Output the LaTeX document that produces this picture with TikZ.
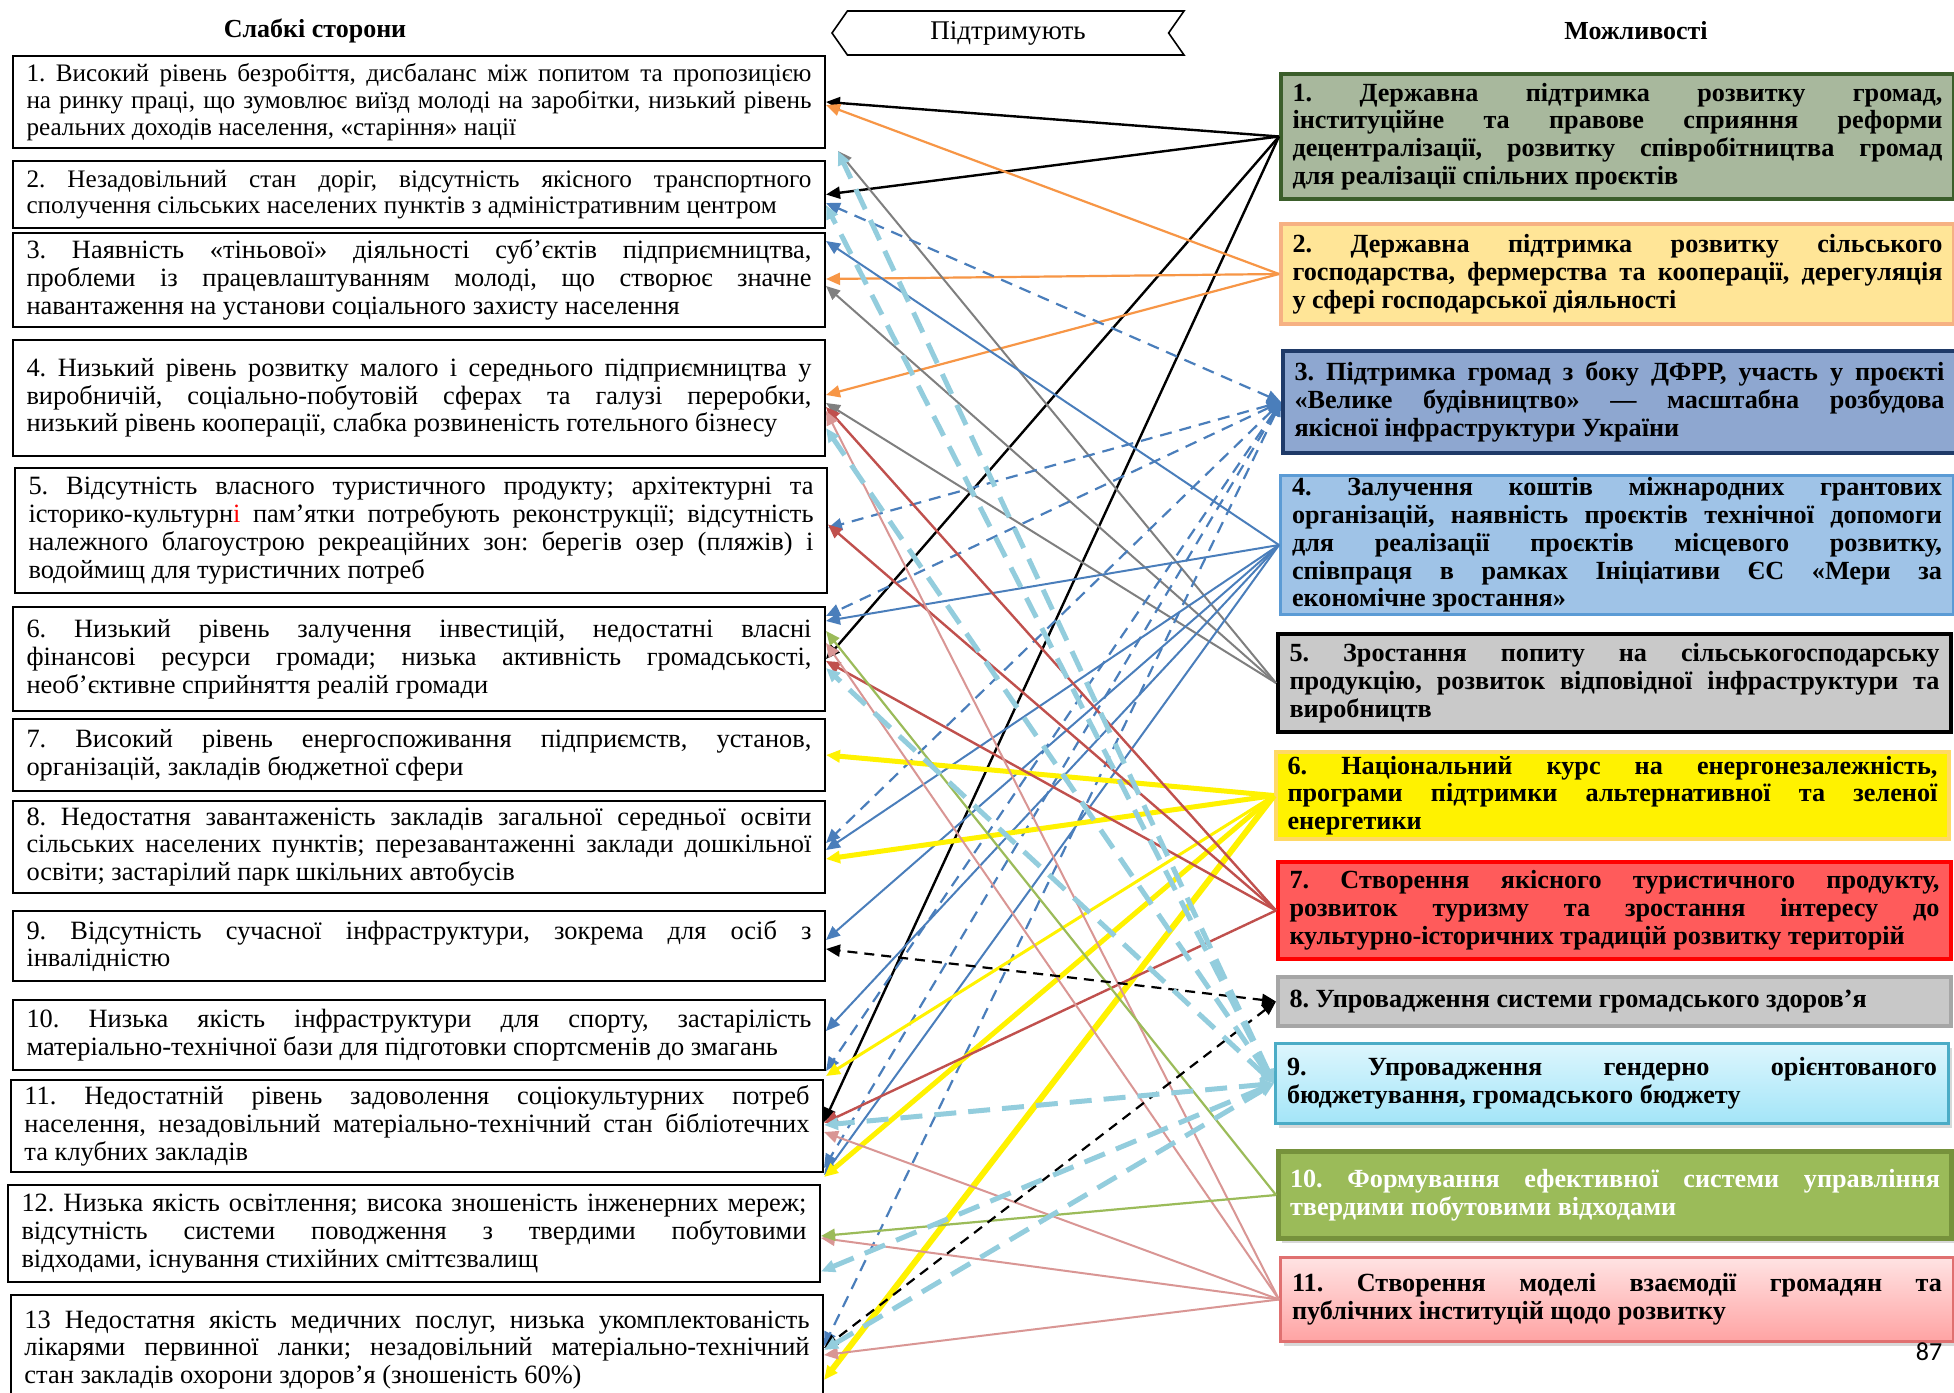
\documentclass[tikz,border=0pt]{standalone}
\usepackage{fontspec}
\setmainfont{Liberation Serif}[WordSpace={1,1.5,2}]
\newfontfamily\numfont{Carlito}
\usetikzlibrary{positioning, arrows.meta, shapes.symbols, shadows}

\definecolor{ogreen}{HTML}{A8B89D}
\definecolor{ogreenb}{HTML}{3B5E2B}
\definecolor{oorange}{HTML}{FFE597}
\definecolor{oorangeb}{HTML}{F6B183}
\definecolor{oblue}{HTML}{8EA7D0}
\definecolor{oblueb}{HTML}{1F3A68}
\definecolor{osky}{HTML}{9FC3E7}
\definecolor{oskyb}{HTML}{5B9BD5}
\definecolor{ogray}{HTML}{C9C9C9}
\definecolor{oyellowb}{HTML}{FFD966}
\definecolor{ored}{HTML}{FF5B5B}
\definecolor{olgray}{HTML}{C8C8C8}
\definecolor{olgrayb}{HTML}{A6A6A6}
\definecolor{ocyantop}{HTML}{DDF6FD}
\definecolor{ocyanbot}{HTML}{A3E5F8}
\definecolor{ocyanb}{HTML}{4BACC6}
\definecolor{olime}{HTML}{9BBB59}
\definecolor{olimeb}{HTML}{76923C}
\definecolor{opinktop}{HTML}{FFE3E3}
\definecolor{opinkbot}{HTML}{FFA3A3}
\definecolor{opinkb}{HTML}{E07070}
\definecolor{corange}{HTML}{F79646}
\definecolor{cgray}{HTML}{7F7F7F}
\definecolor{cblue}{HTML}{4A7EBB}
\definecolor{cred}{HTML}{C0504D}
\definecolor{cpink}{HTML}{D99694}
\definecolor{cgreen}{HTML}{9BBB59}
\definecolor{clblue}{HTML}{93CDDD}

\setlength\parindent{0pt}
\frenchspacing
\tolerance=10000 \hbadness=10000 \hyphenpenalty=10000 \exhyphenpenalty=10000
\newcommand\wfont{\fontsize{13.2}{13.9}\selectfont}
\newcommand\wfonta{\fontsize{12.6}{13.4}\selectfont}
\newcommand\ofont{\fontsize{13.1}{13.9}\selectfont\bfseries}

\begin{document}
\begin{tikzpicture}[x=0.5pt, y=-0.5pt,
	weak/.style={draw, line width=1pt, anchor=north west, minimum height=#1, text width=392.5pt, inner xsep=6.75pt, inner ysep=1pt, align=justify, font=\wfont},
	opp/.style={line width=2pt, anchor=north west, minimum height=#1, text width=325pt, inner xsep=5.75pt, inner ysep=1pt, align=justify, font=\ofont},
	shd/.style={drop shadow={opacity=0.3, shadow xshift=1.5pt, shadow yshift=-2pt}},
	head/.style={font=\fontsize{13}{15}\selectfont\bfseries},
	tip/.style={-{Triangle[length=7pt,width=6pt]}},
	tips/.style={{Triangle[length=7pt,width=6pt]}-{Triangle[length=7pt,width=6pt]}},
	blk/.style={tip, line width=1.2pt, black},
	org/.style={tip, line width=1.1pt, corange},
	gry/.style={tip, line width=1pt, cgray},
	blu/.style={tip, line width=1pt, cblue},
	bld/.style={tips, line width=1.1pt, cblue, dash pattern=on 6pt off 4pt},
	yel/.style={tip, line width=2.5pt, yellow},
	rd/.style={tip, line width=1.2pt, cred},
	pnk/.style={tip, line width=1pt, cpink},
	grn/.style={tip, line width=1.1pt, cgreen},
	bkd/.style={tips, line width=1.1pt, black, dash pattern=on 5pt off 3.5pt},
	lbd/.style={tips, line width=2.5pt, clblue, dash pattern=on 11pt off 6pt}]
	\path[use as bounding box, fill=white] (0,0) rectangle (1954,1392);

	\node[head] (wtitle) at (315,31) {Слабкі сторони};
	\node[head] (otitle) at (1636,31) {Можливості};
	\node[signal, draw, signal to=west, signal from=east, signal pointer angle=110, minimum width=176pt, minimum height=22pt, line width=0.8pt, font=\fontsize{13.5}{15}\selectfont] (sup) at (1008,33) {Підтримують};

	\node[weak=46pt, font=\wfonta] (L1) at (12,55) {1. Високий рівень безробіття, дисбаланс між попитом та пропозицією\linebreak на ринку праці, що зумовлює виїзд молоді на заробітки, низький рівень\linebreak реальних доходів населення, «старіння» нації};
	\node[weak=33.5pt, font=\wfonta] (L2) at (12,160) {2. Незадовільний стан доріг, відсутність якісного транспортного\linebreak сполучення сільських населених пунктів з адміністративним центром};
	\node[weak=47pt] (L3) at (12,232) {3. Наявність «тіньової» діяльності суб’єктів підприємництва,\linebreak проблеми із працевлаштуванням молоді, що створює значне\linebreak навантаження на установи соціального захисту населення};
	\node[weak=58pt] (L4) at (12,339) {4. Низький рівень розвитку малого і середнього підприємництва у\linebreak виробничій, соціально-побутовій сферах та галузі переробки,\linebreak низький рівень кооперації, слабка розвиненість готельного бізнесу};
	\node[weak=62.5pt] (L5) at (14,467) {5. Відсутність власного туристичного продукту; архітектурні та\linebreak історико-культурн\textcolor{red}{і} пам’ятки потребують реконструкції; відсутність\linebreak належного благоустрою рекреаційних зон: берегів озер (пляжів) і\linebreak водоймищ для туристичних потреб};
	\node[weak=52pt] (L6) at (12,606) {6. Низький рівень залучення інвестицій, недостатні власні\linebreak фінансові ресурси громади; низька активність громадськості,\linebreak необ’єктивне сприйняття реалій громади};
	\node[weak=36pt] (L7) at (12,718) {7. Високий рівень енергоспоживання підприємств, установ,\linebreak організацій, закладів бюджетної сфери};
	\node[weak=46pt] (L8) at (12,800) {8. Недостатня завантаженість закладів загальної середньої освіти\linebreak сільських населених пунктів; перезавантаженні заклади дошкільної\linebreak освіти; застарілий парк шкільних автобусів};
	\node[weak=35pt] (L9) at (12,910) {9. Відсутність сучасної інфраструктури, зокрема для осіб з\linebreak інвалідністю};
	\node[weak=35pt] (L10) at (12,999) {10. Низька якість інфраструктури для спорту, застарілість\linebreak матеріально-технічної бази для підготовки спортсменів до змагань};
	\node[weak=46pt] (L11) at (10,1079) {11. Недостатній рівень задоволення соціокультурних потреб\linebreak населення, незадовільний матеріально-технічний стан бібліотечних\linebreak та клубних закладів};
	\node[weak=48.5pt] (L12) at (7,1184) {12. Низька якість освітлення; висока зношеність інженерних мереж;\linebreak відсутність системи поводження з твердими побутовими\linebreak відходами, існування стихійних сміттєзвалищ};
	\node[weak=55pt] (L13) at (10,1294) {13 Недостатня якість медичних послуг, низька укомплектованість\linebreak лікарями первинної ланки; незадовільний матеріально-технічний\linebreak стан закладів охорони здоров’я (зношеність 60\%)};

	\node[opp=62.5pt, draw=ogreenb, fill=ogreen] (R1) at (1279,72) {1. Державна підтримка розвитку громад,\linebreak інституційне та правове сприяння реформи\linebreak децентралізації, розвитку співробітництва громад\linebreak для реалізації спільних проєктів};
	\node[opp=50pt, draw=oorangeb, fill=oorange] (R2) at (1279,222) {2. Державна підтримка розвитку сільського\linebreak господарства, фермерства та кооперації, дерегуляція\linebreak у сфері господарської діяльності};
	\node[opp=51pt, draw=oblueb, fill=oblue] (R3) at (1281,349) {3. Підтримка громад з боку ДФРР, участь у проєкті\linebreak «Велике будівництво» — масштабна розбудова\linebreak якісної інфраструктури України};
	\node[opp=69.5pt, draw=oskyb, fill=osky, line width=1.5pt] (R4) at (1279,474) {4. Залучення коштів міжнародних грантових\linebreak організацій, наявність проєктів технічної допомоги\linebreak для реалізації проєктів місцевого розвитку,\linebreak співпраця в рамках Ініціативи ЄС «Мери за\linebreak економічне зростання»};
	\node[opp=49pt, draw=black, fill=ogray] (R5) at (1276,632) {5. Зростання попиту на сільськогосподарську\linebreak продукцію, розвиток відповідної інфраструктури та\linebreak виробництв};
	\node[opp=43.5pt, draw=oyellowb, fill=yellow] (R6) at (1274,750) {6. Національний курс на енергонезалежність,\linebreak програми підтримки альтернативної та зеленої\linebreak енергетики};
	\node[opp=48.5pt, draw=red, fill=ored] (R7) at (1276,860) {7. Створення якісного туристичного продукту,\linebreak розвиток туризму та зростання інтересу до\linebreak культурно-історичних традицій розвитку територій};
	\node[opp=24.5pt, draw=olgrayb, fill=olgray] (R8) at (1276,975) {8. Упровадження системи громадського здоров’я};
	\node[opp=40pt, draw=ocyanb, top color=ocyantop, bottom color=ocyanbot, line width=1.5pt, shd] (R9) at (1274,1042) {9. Упровадження гендерно орієнтованого\linebreak бюджетування, громадського бюджету};
	\node[opp=43.5pt, draw=olimeb, fill=olime, text=white, line width=2.5pt, shd] (R10) at (1276,1149) {10. Формування ефективної системи управління\linebreak твердими побутовими відходами};
	\node[opp=42pt, draw=opinkb, top color=opinktop, bottom color=opinkbot, line width=1.5pt, shd] (R11) at (1279,1256) {11. Створення моделі взаємодії громадян та\linebreak публічних інституцій щодо розвитку};
	\node[font=\numfont\fontsize{13}{15}\selectfont] (pnum) at (1929,1352) {87};

	\coordinate (g12) at ([xshift=6pt,yshift=4.5pt]L2.north east);

	\draw[blk] (R1.west) -- (L1.east);
	\draw[blk] (R1.west) -- (L2.east);
	\draw[blk] (R1.west) -- (L6.east);
	\draw[blk] (R1.west) -- ([yshift=2pt]L11.east);
	\draw[org] (R2.west) -- ([yshift=-1.5pt]L1.east);
	\draw[org] (R2.west) -- ([yshift=0.5pt]L3.east);
	\draw[org] (R2.west) -- ([yshift=1.5pt]L4.east);
	\draw[gry] (R5.west) -- (g12);
	\draw[gry] (R5.west) -- ([yshift=-3pt]L3.east);
	\draw[gry] (R5.west) -- ([yshift=-2.5pt]L4.east);
	\draw[blu] (R4.west) -- ([yshift=19.5pt]L3.east);
	\draw[blu] (R4.west) -- ([yshift=19pt]L6.east);
	\draw[blu] (R4.west) -- ([yshift=-1.5pt]L8.east);
	\draw[blu] (R4.west) -- ([yshift=3pt]L9.east);
	\draw[blu] (R4.west) -- ([yshift=2pt]L10.east);
	\draw[blu] (R4.west) -- ([yshift=-24.5pt]L11.east);
	\draw[bld] (R3.west) -- ([yshift=-4.25pt]L2.east);
	\draw[bld] (R3.west) -- ([yshift=1.25pt]L5.east);
	\draw[bld] (R3.west) -- ([yshift=21.5pt]L6.east);
	\draw[bld] (R3.west) -- ([yshift=2pt]L8.east);
	\draw[bld] (R3.west) -- ([yshift=-18pt]L10.east);
	\draw[bld] (R3.west) -- ([yshift=-21pt]L11.east);
	\draw[bld] (R3.west) -- ([yshift=2pt]L13.east);
	\draw[yel] (R6.west) -- (L7.east);
	\draw[yel] (R6.west) -- ([yshift=-6pt]L8.east);
	\draw[yel, line width=1.5pt] (R6.west) -- ([yshift=-20.5pt]L10.east);
	\draw[yel] (R6.west) -- ([yshift=-25.5pt]L11.east);
	\draw[yel, line width=3pt] (R6.west) -- ([yshift=-15pt]L13.east);
	\draw[rd] (R7.west) -- ([yshift=-4.5pt]L4.east);
	\draw[rd] (R7.west) -- ([yshift=3pt]L5.east);
	\draw[rd] (R7.west) -- ([yshift=-1pt]L6.east);
	\draw[rd] (R7.west) -- ([yshift=1.5pt]L11.east);
	\draw[pnk] (R11.west) -- ([yshift=-6.5pt]L4.east);
	\draw[pnk] (R11.west) -- ([yshift=8pt]L6.east);
	\draw[pnk] (R11.west) -- ([yshift=-3pt]L11.east);
	\draw[pnk] (R11.west) -- ([yshift=-2.25pt]L12.east);
	\draw[pnk] (R11.west) -- ([yshift=-2.5pt]L13.east);
	\draw[grn] (R10.west) -- ([yshift=14pt]L6.east);
	\draw[grn] (R10.west) -- ([yshift=-1.25pt]L12.east);
	\draw[bkd] (R8.west) -- ([yshift=-1.5pt]L9.east);
	\draw[bkd] (R8.west) -- ([yshift=1pt]L13.east);
	\draw[lbd] (R9.west) -- (g12);
	\draw[lbd] (R9.west) -- ([yshift=-5.25pt]L2.east);
	\draw[lbd] (R9.west) -- ([yshift=-15pt]L4.east);
	\draw[lbd] (R9.west) -- ([yshift=-4.5pt]L6.east);
	\draw[lbd] (R9.west) -- ([yshift=0.5pt]L11.east);
	\draw[lbd] (R9.west) -- ([yshift=-19pt]L12.east);
	\draw[lbd] (R9.west) -- (L13.east);
\end{tikzpicture}
\end{document}
